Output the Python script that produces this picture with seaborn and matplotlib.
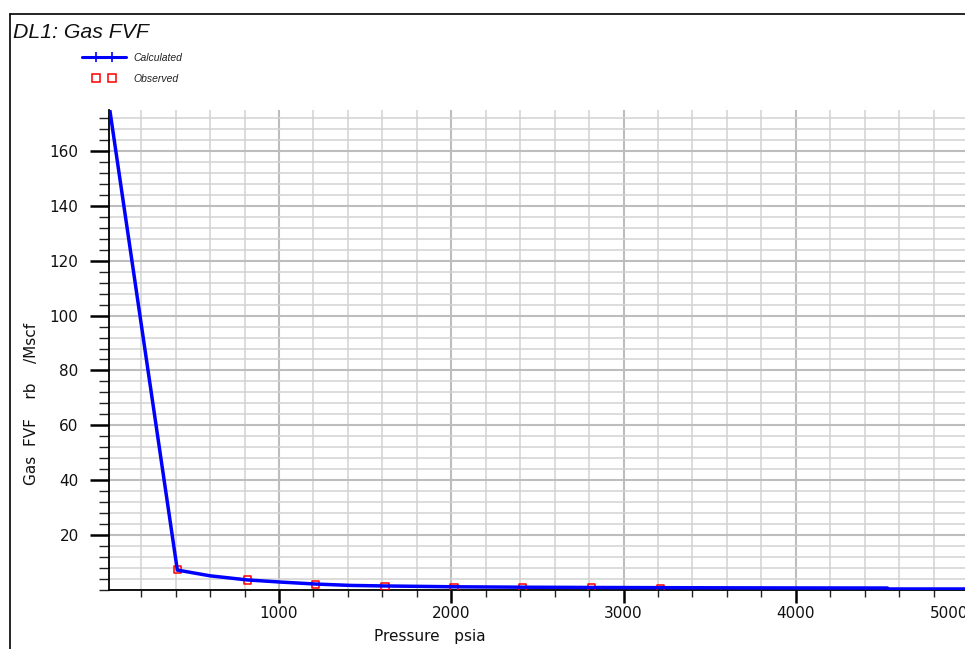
import numpy as np
import pandas as pd
import matplotlib
matplotlib.use("Agg")
import matplotlib.pyplot as plt
from matplotlib import font_manager
from matplotlib.lines import Line2D
from matplotlib.legend_handler import HandlerLine2D
from matplotlib.ticker import MultipleLocator, FixedLocator
import seaborn as sns

# Calculated gas formation volume factor (DL1)
calc_pressure = [14.7, 410, 600, 816, 1015, 1213, 1415, 1615, 2015, 2415, 2815,
                 3215, 3615, 4015, 4530, 4540, 5200]
calc_bg = [176.5, 7.2, 5.1, 3.6, 2.8, 2.1, 1.6, 1.4, 1.1, 0.95, 0.85,
           0.78, 0.72, 0.68, 0.65, 0.3, 0.3]

# Observed laboratory values
obs_pressure = [410, 816, 1213, 1615, 2015, 2415, 2815, 3215]
obs_bg = [7.3, 3.6, 1.9, 1.3, 0.9, 0.85, 0.8, 0.25]

x_ticks = [1000, 2000, 3000, 4000, 5000]
y_ticks = [20, 40, 60, 80, 100, 120, 140, 160]

sns.set_style("white")
plt.rcParams["font.family"] = ["DejaVu Sans"]

installed = {f.name for f in font_manager.fontManager.ttflist}
if "Liberation Sans Narrow" in installed:
    narrow, title_size, leg_size = "Liberation Sans Narrow", 17, 9
else:
    narrow, title_size, leg_size = "Liberation Sans", 15.3, 7.5


class InsetMarkerHandler(HandlerLine2D):
    """Full-length legend line with two markers set in from the ends."""

    def __init__(self, inset, **kw):
        super().__init__(**kw)
        self.inset = inset

    def create_artists(self, legend, orig_handle, xdescent, ydescent,
                       width, height, fontsize, trans):
        y = (height - ydescent) / 2
        xs, xe = -xdescent, -xdescent + width
        line = Line2D([xs, xe], [y, y])
        self.update_prop(line, orig_handle, legend)
        line.set_marker("None")
        marks = Line2D([xs + self.inset, xe - self.inset], [y, y])
        self.update_prop(marks, orig_handle, legend)
        marks.set_linestyle("None")
        line.set_transform(trans)
        marks.set_transform(trans)
        return [line, marks]


calc = pd.DataFrame({"Pressure": calc_pressure, "Bg": calc_bg})
obs = pd.DataFrame({"Pressure": obs_pressure, "Bg": obs_bg})

W, H = 965, 649
fig = plt.figure(figsize=(W / 100, H / 100), dpi=100)
fig.patch.set_facecolor("white")

# the plot area runs past the right edge of the page
x0, x1 = 14.7, 5100
px_per_unit = 0.1723
ax_left = 109.2
ax_width = (x1 - x0) * px_per_unit
ax_bottom = 589.8
ax_top = 110
ax = fig.add_axes([ax_left / W, (H - ax_bottom) / H,
                   ax_width / W, (ax_bottom - ax_top) / H])
ax.set_facecolor("white")

sns.scatterplot(data=obs, x="Pressure", y="Bg", ax=ax, marker="s", s=28,
                facecolor="none", edgecolor="#ff0000", linewidth=1.1, zorder=3)
sns.lineplot(data=calc, x="Pressure", y="Bg", ax=ax, color="#0000ff",
             linewidth=2.5, estimator=None, sort=False, zorder=4)

ax.set_xlim(x0, x1)
ax.set_ylim(0, 175)

ax.xaxis.set_major_locator(FixedLocator(x_ticks))
ax.xaxis.set_minor_locator(MultipleLocator(200))
ax.yaxis.set_major_locator(FixedLocator(y_ticks))
ax.yaxis.set_minor_locator(MultipleLocator(4))

ax.grid(which="major", color="#bdbdbd", linewidth=1.5, zorder=0)
ax.grid(which="minor", color="#d2d2d2", linewidth=1.1, zorder=0)
ax.set_axisbelow(True)

for side in ["top", "right"]:
    ax.spines[side].set_visible(False)
for side in ["left", "bottom"]:
    ax.spines[side].set_color("black")
    ax.spines[side].set_linewidth(1.3)

ax.tick_params(axis="y", which="major", direction="out", length=14, width=1.8,
               color="black", labelsize=11, pad=8, labelcolor="#111111")
ax.tick_params(axis="y", which="minor", direction="out", length=7.5, width=1,
               color="#222222")
ax.tick_params(axis="x", which="major", direction="out", length=9, width=1.8,
               color="black", labelsize=11, pad=2.5, labelcolor="#111111")
ax.tick_params(axis="x", which="minor", direction="out", length=5, width=1,
               color="#222222")
ax.tick_params(left=True, bottom=True, which="both")

# keep the last pressure label inside the page
ax.get_xticklabels()[-1].set_horizontalalignment("right")

ax.set_xlabel("")
ax.set_ylabel("")

fig.text(430 / W, (H - 641) / H, "Pressure   psia", ha="center",
         va="baseline", fontsize=11, color="#111111")
fig.text(32 / W, (H - 404) / H, "Gas  FVF    rb    /Mscf", rotation=90,
         ha="center", va="center", fontsize=11, color="#111111")

# title and outer frame
fig.text(13 / W, (H - 33) / H, "DL1: Gas FVF", fontsize=title_size,
         style="italic", family=[narrow, "DejaVu Sans"],
         ha="left", va="center", color="#111111")
fig.add_artist(Line2D([10 / W, 10 / W], [0, (H - 14) / H], color="black",
                      linewidth=1.2, transform=fig.transFigure))
fig.add_artist(Line2D([10 / W, 1], [(H - 14) / H, (H - 14) / H], color="black",
                      linewidth=1.2, transform=fig.transFigure))

# legend
h_calc = Line2D([], [], color="#0000ff", linewidth=2.2, marker="+",
                markersize=7, markeredgewidth=1.2)
h_obs = Line2D([], [], linestyle="none", marker="s", markersize=6,
               markerfacecolor="none", markeredgecolor="#ff0000",
               markeredgewidth=1.1)
handle_pt = 44 * 0.72
leg = fig.legend([h_calc, h_obs], ["Calculated", "Observed"],
                 loc="upper left", bbox_to_anchor=(82 / W, (H - 53) / H),
                 frameon=False, numpoints=2, borderpad=0, borderaxespad=0,
                 handlelength=handle_pt / leg_size,
                 handletextpad=5 / leg_size,
                 labelspacing=1.05,
                 handler_map={h_calc: InsetMarkerHandler(10),
                              h_obs: InsetMarkerHandler(10)},
                 prop={"style": "italic", "size": leg_size,
                       "family": [narrow, "DejaVu Sans"]})
for t in leg.get_texts():
    t.set_color("#222222")

fig.savefig("out.png", dpi=100, facecolor="white")
